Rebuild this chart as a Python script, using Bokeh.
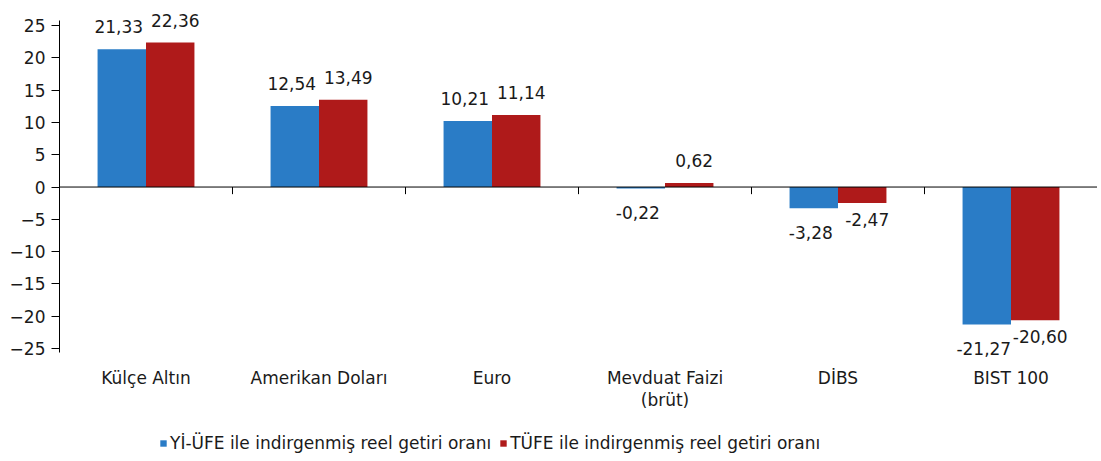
from bokeh.plotting import figure
from bokeh.models import (ColumnDataSource, LabelSet, Span, Legend, LegendItem,
                          FixedTicker, Range1d)
from bokeh.core.properties import value
from bokeh.embed import file_html
from bokeh.resources import INLINE

categories = ["Külçe Altın", "Amerikan Doları", "Euro", "Mevduat Faizi\n(brüt)", "DİBS", "BIST 100"]
yi_ufe = [21.33, 12.54, 10.21, -0.22, -3.28, -21.27]
tufe = [22.36, 13.49, 11.14, 0.62, -2.47, -20.60]
series_names = ["Yİ-ÜFE ile indirgenmiş reel getiri oranı", "TÜFE ile indirgenmiş reel getiri oranı"]
y_ticks = list(range(-25, 30, 5))

BLUE = "#2A7CC6"
RED = "#AF1A1A"
FONT = "DejaVu Sans"
TXT = "#1a1a1a"
FS = "17px"

n = len(categories)
idx = list(range(n))
bar_w = 0.28
AXIS_LO, AXIS_HI = -25.6, 25.8          # extent of the drawn y-axis line
VIEW_LO, VIEW_HI = -41.55, 28.87        # frame extent (room for labels + legend)

p = figure(frame_width=1038, frame_height=455, output_backend="svg", toolbar_location=None,
           x_range=Range1d(-0.5, n - 0.5), y_range=Range1d(VIEW_LO, VIEW_HI),
           min_border_left=59, min_border_right=0, min_border_top=0, min_border_bottom=0)
p.outline_line_color = None
p.xgrid.grid_line_color = None
p.ygrid.grid_line_color = None
p.background_fill_color = "white"
p.border_fill_color = "white"
p.xaxis.visible = False

renderers = []
for k, (vals, col, off) in enumerate([(yi_ufe, BLUE, -bar_w / 2), (tufe, RED, bar_w / 2)]):
    xs = [i + off for i in idx]
    src = ColumnDataSource(dict(x=xs, top=vals))
    r = p.vbar(x="x", top="top", bottom=0, width=bar_w, source=src,
               fill_color=col, line_color=None)
    renderers.append(r)
    pos = ColumnDataSource(dict(x=[x for x, v in zip(xs, vals) if v >= 0],
                                y=[v for v in vals if v >= 0],
                                lab=[f"{v:.2f}".replace(".", ",") for v in vals if v >= 0]))
    neg = ColumnDataSource(dict(x=[x for x, v in zip(xs, vals) if v < 0],
                                y=[v for v in vals if v < 0],
                                lab=[f"{v:.2f}".replace(".", ",") for v in vals if v < 0]))
    xo = -3 if k == 0 else 5
    p.add_layout(LabelSet(x="x", y="y", text="lab", source=pos, text_align="center",
                          text_baseline="bottom", y_offset=16, x_offset=xo,
                          text_font=value(FONT), text_font_size=value(FS), text_color=TXT))
    p.add_layout(LabelSet(x="x", y="y", text="lab", source=neg, text_align="center",
                          text_baseline="top", y_offset=-18 if k == 0 else -10, x_offset=xo,
                          text_font=value(FONT), text_font_size=value(FS), text_color=TXT))

# zero line with category boundary ticks
p.add_layout(Span(location=0, dimension="width", line_color="black", line_width=1))
bounds = [i + 0.5 for i in idx[:-1]]
p.segment(x0=bounds, y0=[0] * len(bounds), x1=bounds, y1=[-1.1] * len(bounds),
          line_color="black", line_width=1)

# category labels below the plotting area (each line centred separately)
lines = [c.split("\n") for c in categories]
for li in range(max(len(l) for l in lines)):
    xs = [i for i, l in zip(idx, lines) if len(l) > li]
    labs = [l[li] for l in lines if len(l) > li]
    src = ColumnDataSource(dict(x=xs, y=[AXIS_LO] * len(xs), lab=labs))
    p.add_layout(LabelSet(x="x", y="y", text="lab", source=src, text_align="center",
                          text_baseline="middle", y_offset=-26 - 22 * li,
                          text_font=value(FONT), text_font_size=value(FS), text_color=TXT))

# y axis
ya = p.yaxis[0]
ya.ticker = FixedTicker(ticks=y_ticks)
ya.bounds = (AXIS_LO, AXIS_HI)
ya.axis_line_color = "black"
ya.major_tick_line_color = "black"
ya.major_tick_out = 8
ya.major_tick_in = 0
ya.minor_tick_line_color = None
ya.major_label_text_font = FONT
ya.major_label_text_font_size = FS
ya.major_label_text_color = TXT
ya.major_label_standoff = 6

legend = Legend(items=[LegendItem(label=series_names[0], renderers=[renderers[0]]),
                       LegendItem(label=series_names[1], renderers=[renderers[1]])],
                orientation="horizontal", location=(100, 2),
                border_line_color=None, background_fill_alpha=0,
                label_text_font=FONT, label_text_font_size="17px", label_text_color=TXT,
                glyph_width=8, glyph_height=8, label_standoff=3, spacing=8,
                padding=2, margin=0, label_height=18)
p.add_layout(legend, "center")

open("out.html", "w").write(file_html(p, INLINE))
